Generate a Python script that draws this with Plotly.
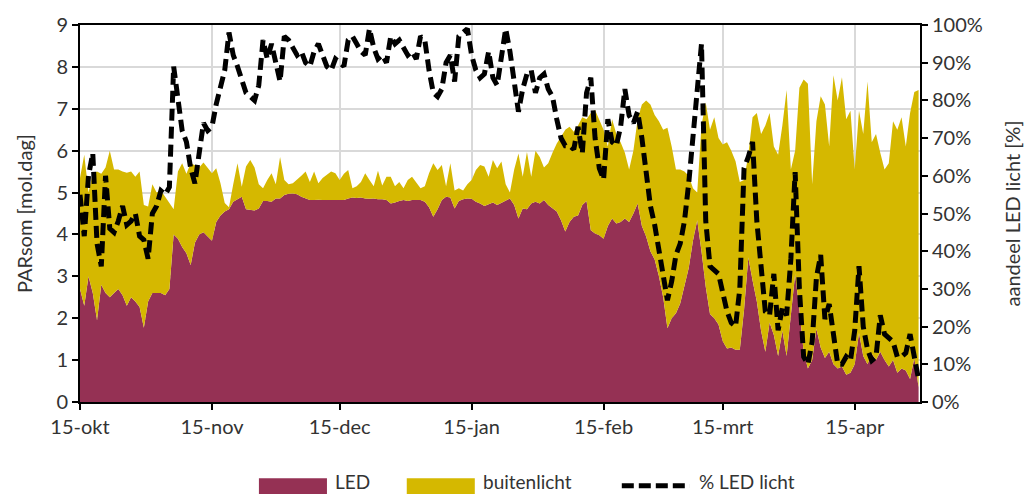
import pandas as pd
import plotly.graph_objects as go

# Dagelijkse lichtsom (PARsom) 15 okt - 30 apr
led = [
    2.7, 2.3, 3.0, 2.6, 1.95, 2.8, 2.6, 2.5, 2.6, 2.7,
    2.55, 2.3, 2.5, 2.4, 2.27, 1.77, 2.4, 2.6, 2.6, 2.6,
    2.55, 2.7, 4.0, 3.9, 3.7, 3.55, 3.27, 3.8, 4.0, 4.05,
    3.95, 3.85, 4.3, 4.45, 4.55, 4.6, 4.78, 4.85, 4.9, 4.6,
    4.58, 4.57, 4.62, 4.8, 4.8, 4.78, 4.86, 4.86, 4.94, 4.97,
    4.98, 4.96, 4.9, 4.86, 4.82, 4.82, 4.83, 4.82, 4.82, 4.82,
    4.83, 4.82, 4.82, 4.86, 4.88, 4.87, 4.88, 4.86, 4.85, 4.86,
    4.84, 4.84, 4.82, 4.74, 4.76, 4.8, 4.82, 4.8, 4.82, 4.82,
    4.82, 4.78, 4.65, 4.42, 4.6, 4.82, 4.9, 4.88, 4.62, 4.8,
    4.84, 4.86, 4.85, 4.78, 4.74, 4.68, 4.72, 4.76, 4.7, 4.76,
    4.8, 4.86, 4.7, 4.38, 4.62, 4.6, 4.74, 4.78, 4.74, 4.82,
    4.7, 4.62, 4.55, 4.34, 4.07, 4.3, 4.42, 4.45, 4.7, 4.8,
    4.1, 4.02, 3.98, 3.9, 4.2, 4.38, 4.26, 4.3, 4.38, 4.3,
    4.5, 4.74, 4.2, 3.95, 3.6, 3.4, 3.0, 2.5, 1.76, 2.0,
    2.12, 2.35, 2.75, 3.2, 3.85, 4.34, 3.6, 2.75, 2.1, 2.0,
    1.85, 1.45, 1.28, 1.3, 1.25, 1.25, 2.2, 3.45, 2.9, 2.4,
    1.7, 1.2, 1.9, 1.6, 1.1, 1.7, 1.1, 2.0, 3.05, 2.2,
    1.2, 0.8, 1.0, 1.75, 1.3, 1.05, 1.2, 0.9, 0.8, 0.85,
    0.65, 0.7, 0.9, 1.65, 1.1, 0.9, 1.15, 1.0, 1.2, 1.0,
    0.85, 1.0, 0.7, 0.8, 0.75, 0.55, 1.05, 0.35,
]

# Totale lichtsom (LED + buitenlicht)
parsom = [
    5.35, 5.9, 5.0, 5.45, 5.5, 5.45, 5.6, 6.0, 5.55, 5.55,
    5.5, 5.47, 5.5, 5.38, 5.5, 4.7, 4.67, 5.2, 5.0, 5.05,
    4.9, 4.75, 4.6, 5.5, 5.7, 5.45, 5.7, 5.65, 5.6, 5.72,
    5.6, 5.46, 5.58, 5.22, 4.75, 4.65, 5.2, 5.7, 5.14, 5.62,
    5.78, 5.6, 5.2, 5.1, 5.3, 5.46, 5.2, 5.85, 5.3, 5.2,
    5.22, 5.3, 5.4, 5.5, 5.25, 5.5, 5.22, 5.35, 5.42, 5.5,
    5.46, 5.3, 5.45, 5.54, 5.1, 5.15, 5.25, 5.46, 5.3, 5.15,
    5.52, 5.17, 5.38, 5.38, 5.15, 5.25, 5.1, 5.3, 5.38, 5.25,
    5.1, 5.15, 5.46, 5.7, 5.54, 5.66, 5.15, 5.7, 5.05, 5.1,
    5.05, 5.2, 5.3, 5.54, 5.66, 5.62, 5.38, 5.78, 5.58, 5.74,
    5.2, 5.0, 5.55, 5.93, 5.38, 5.97, 5.38, 6.0, 5.85, 5.6,
    5.7, 5.95, 6.17, 6.33, 6.5, 6.57, 6.45, 6.6, 6.8, 6.75,
    6.9, 6.97, 6.75, 6.5, 6.1, 6.75, 6.4, 6.2, 5.95, 5.55,
    6.0, 6.75, 7.1, 7.2, 7.1, 6.85, 6.7, 6.5, 6.55, 6.1,
    5.55, 5.55, 5.5, 5.4, 5.1, 5.0, 6.6, 7.15, 6.5, 6.8,
    6.3, 6.15, 6.2, 6.0, 5.75, 5.25, 5.3, 5.9, 6.8, 6.9,
    6.4, 6.6, 6.9, 6.1, 5.9, 6.6, 7.45, 5.55, 6.0, 7.5,
    7.7, 7.6, 5.2, 6.7, 7.3, 7.1, 6.1, 7.8, 7.2, 7.75,
    6.75, 6.95, 5.55, 6.95, 6.4, 7.65, 6.2, 6.4, 5.95, 5.55,
    5.7, 6.7, 6.5, 6.8, 6.1, 6.9, 7.4, 7.45,
]

# Aandeel LED licht [%]
aandeel_led = [
    55, 44, 60, 66, 42, 36, 60, 46, 45, 48,
    52, 47, 48, 50, 44, 43, 38, 50, 52, 56,
    55, 57, 89, 80, 72, 69, 62, 58, 67, 74,
    72, 73, 79, 84, 88, 98, 92, 89, 85, 82,
    81, 80, 84, 96, 91, 95, 90, 85, 97, 96,
    94, 92, 93, 90, 89, 93, 95, 92, 89, 88,
    91, 90, 89, 96, 97, 95, 93, 92, 99, 94,
    91, 92, 90, 97, 95, 96, 94, 92, 93, 91,
    97, 96, 88, 82, 81, 83, 90, 92, 85, 97,
    98, 99, 92, 88, 86, 87, 93, 86, 84, 92,
    99, 93, 86, 77, 83, 87, 88, 82, 86, 87,
    83, 81, 75, 70, 68, 68, 67, 73, 66, 82,
    86, 70, 62, 59, 75, 69, 68, 73, 83, 76,
    74, 77, 70, 60, 52, 47, 40, 33, 27, 32,
    39, 42, 48, 58, 70, 85, 95, 48, 36, 35,
    34, 29, 24, 21, 20, 30, 62, 65, 69, 48,
    34, 24, 23, 34, 19, 25, 23, 38, 61, 30,
    12, 10, 16, 33, 39, 22, 26, 17, 10, 10,
    12, 11, 19, 36, 20, 14, 11, 12, 23, 18,
    17, 16, 12, 12, 13, 18, 12, 6,
]

tick_dates = ["2018-10-15", "2018-11-15", "2018-12-15", "2019-01-15",
              "2019-02-15", "2019-03-15", "2019-04-15"]
tick_labels = ["15-okt", "15-nov", "15-dec", "15-jan", "15-feb", "15-mrt", "15-apr"]

dates = pd.date_range("2018-10-15", periods=len(led), freq="D")

MAROON = "#953154"
GOLD = "#D5B800"
GRID = "#D9D9D9"
TEXT = "#333333"
FONT = "Lato"

fig = go.Figure()
fig.add_trace(go.Scatter(
    x=dates, y=led, name="LED", mode="lines",
    line=dict(width=0), fill="tozeroy", fillcolor=MAROON,
))
fig.add_trace(go.Scatter(
    x=dates, y=parsom, name="buitenlicht", mode="lines",
    line=dict(width=0), fill="tonexty", fillcolor=GOLD,
))
fig.add_trace(go.Scatter(
    x=dates, y=aandeel_led, name="% LED licht", mode="lines", yaxis="y2",
    line=dict(color="black", width=5, dash="12px,6px"),
))

axis_common = dict(
    showline=True, linecolor="black", linewidth=2,
    ticks="outside", ticklen=6, tickwidth=2, tickcolor="black",
    tickfont=dict(family=FONT, size=20, color=TEXT),
)

fig.update_layout(
    width=1033, height=494,
    margin=dict(l=80, r=113, t=25, b=92),
    paper_bgcolor="white", plot_bgcolor="white",
    showlegend=False,
    xaxis=dict(
        type="date",
        range=["2018-10-15", "2019-04-30 08:00"],
        tickvals=tick_dates, ticktext=tick_labels,
        showgrid=True, gridcolor=GRID, gridwidth=2,
        mirror=True, zeroline=False,
        **axis_common,
    ),
    yaxis=dict(
        range=[0, 9], dtick=1,
        showgrid=True, gridcolor=GRID, gridwidth=2, zeroline=False,
        title=dict(text="PARsom [mol.dag]", standoff=18,
                   font=dict(family=FONT, size=20, color=TEXT)),
        **axis_common,
    ),
    yaxis2=dict(
        overlaying="y", side="right",
        range=[0, 100], dtick=10, ticksuffix="%",
        showgrid=False, zeroline=False,
        title=dict(text="aandeel LED licht [%]", standoff=24,
                   font=dict(family=FONT, size=20, color=TEXT)),
        **axis_common,
    ),
)

# Legenda onder de grafiek
legend_y0, legend_y1, legend_mid = -0.202, -0.26, -0.212
legend_items = [
    (0.213, 0.294, MAROON, "LED", 0.301),
    (0.389, 0.470, GOLD, "buitenlicht", 0.477),
]
for x0, x1, color, label, tx in legend_items:
    fig.add_shape(type="rect", xref="paper", yref="paper",
                  x0=x0, x1=x1, y0=legend_y1, y1=legend_y0,
                  fillcolor=color, line=dict(width=0))
    fig.add_annotation(xref="paper", yref="paper", x=tx, y=legend_mid,
                       text=label, showarrow=False, xanchor="left", yanchor="middle",
                       font=dict(family=FONT, size=19, color=TEXT))
fig.add_shape(type="line", xref="paper", yref="paper",
              x0=0.645, x1=0.726, y0=-0.222, y1=-0.222,
              line=dict(color="black", width=5, dash="12px,5px"))
fig.add_annotation(xref="paper", yref="paper", x=0.7345, y=legend_mid,
                   text="% LED licht", showarrow=False, xanchor="left", yanchor="middle",
                   font=dict(family=FONT, size=19, color=TEXT))

fig.write_html("out.html")
